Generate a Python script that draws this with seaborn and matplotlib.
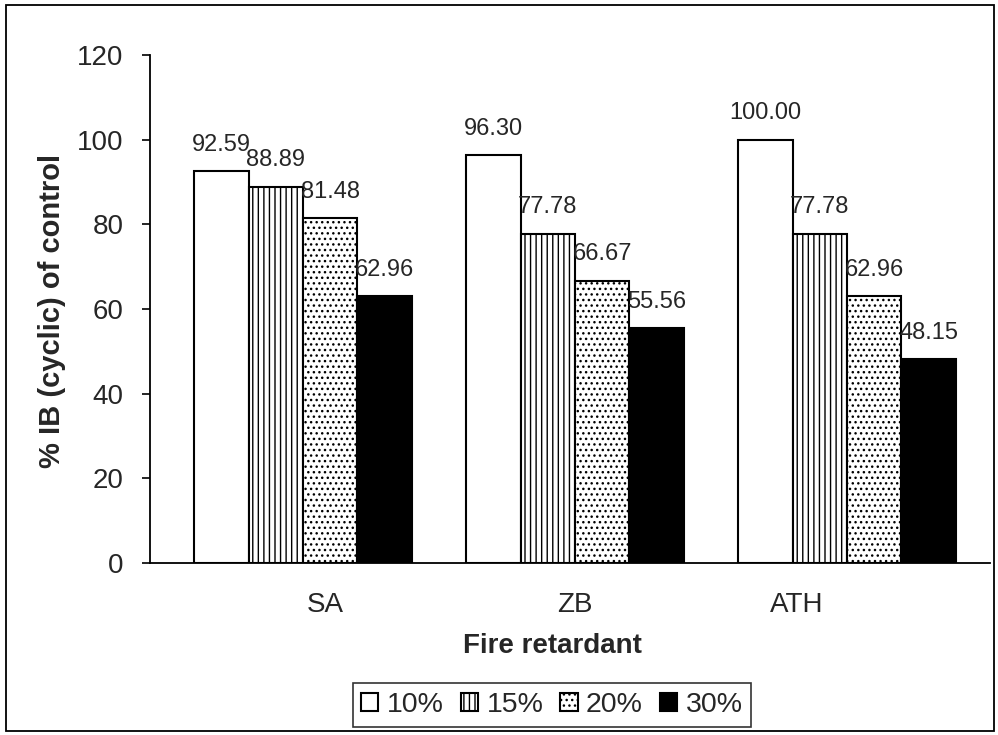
import matplotlib
matplotlib.use("Agg")
import matplotlib.pyplot as plt
import matplotlib.transforms as mtransforms
import seaborn as sns
import pandas as pd
from matplotlib.patches import Rectangle

categories = ["SA", "ZB", "ATH"]
levels = ["10%", "15%", "20%", "30%"]
values_10 = [92.59, 96.30, 100.00]
values_15 = [88.89, 77.78, 77.78]
values_20 = [81.48, 66.67, 62.96]
values_30 = [62.96, 55.56, 48.15]
y_ticks = [0, 20, 40, 60, 80, 100, 120]

rows = []
for lev, vals in zip(levels, [values_10, values_15, values_20, values_30]):
    for cat, v in zip(categories, vals):
        rows.append({"Fire retardant": cat, "Level": lev, "Value": v})
df = pd.DataFrame(rows)

sns.set_theme(style="white")
plt.rcParams["font.family"] = ["Liberation Sans", "DejaVu Sans"]
plt.rcParams["hatch.linewidth"] = 1.0

fig = plt.figure(figsize=(9.98, 7.35), dpi=100)
ax = fig.add_axes([150 / 998, 1 - 563 / 735, (990 - 150) / 998, (563 - 55) / 735])

sns.barplot(data=df, x="Fire retardant", y="Value", hue="Level", order=categories,
            hue_order=levels, ax=ax, width=0.8, saturation=1,
            palette=["white", "white", "white", "black"],
            edgecolor="black", linewidth=1.5, legend=False)

hatches = ["", "|||", "...", ""]
for cont, h in zip(ax.containers, hatches):
    for p in cont:
        p.set_hatch(h)
    ax.bar_label(cont, fmt="%.2f", padding=11, fontsize=17)

ax.set_ylim(0, 120)
ax.set_xlim(-0.5625, 2.526)
ax.set_yticks(y_ticks)
ax.tick_params(axis="y", direction="out", length=6, width=1.2, color="black",
               labelsize=20, pad=13, left=True)
ax.tick_params(axis="x", length=0, labelsize=20, pad=21)
for s in ["top", "right"]:
    ax.spines[s].set_visible(False)
for s in ["left", "bottom"]:
    ax.spines[s].set_color("black")
    ax.spines[s].set_linewidth(1.3)

# small horizontal offsets of category labels as in the scanned original
offsets_px = [22, 0, -50]
for lab, dx in zip(ax.get_xticklabels(), offsets_px):
    lab.set_transform(lab.get_transform() +
                      mtransforms.ScaledTranslation(dx / 100, 0, fig.dpi_scale_trans))

ax.set_xlabel("Fire retardant", fontsize=20, fontweight="bold")
ax.xaxis.set_label_coords((552 - 150) / 840, (563 - 633) / 508)
ax.set_ylabel("% IB (cyclic) of control", fontsize=21, fontweight="bold")
ax.yaxis.set_label_coords((66 - 150) / 840, (563 - 311) / 508)

# legend
handles = [Rectangle((0, 0), 1, 1, facecolor=("black" if i == 3 else "white"),
                     edgecolor="black", hatch=hatches[i], linewidth=1.5)
           for i in range(4)]
leg = fig.legend(handles, levels, loc="center", bbox_to_anchor=(552 / 998, 1 - 705 / 735),
                 ncol=4, fontsize=20.5, frameon=True, fancybox=False, edgecolor="black",
                 handlelength=0.6, handleheight=0.6, handletextpad=0.3, columnspacing=0.6,
                 borderpad=0.3)
leg.get_frame().set_linewidth(1.2)

# outer frame
fig.patches.append(Rectangle((6 / 998, 4 / 735), 988 / 998, 726 / 735, transform=fig.transFigure,
                             fill=False, edgecolor="black", linewidth=1.3))

fig.savefig("out.png", dpi=100, facecolor="white")
